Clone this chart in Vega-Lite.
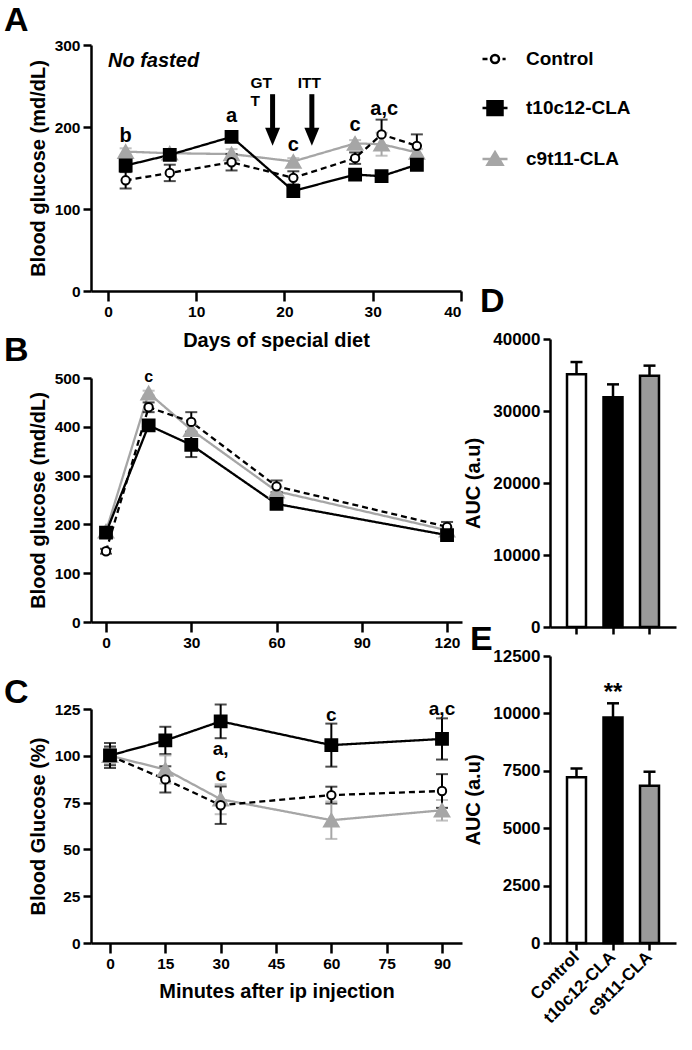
{
  "$schema": "https://vega.github.io/schema/vega-lite/v6.json",
  "background": "white",
  "padding": 4,
  "config": {
    "font": "Liberation Sans",
    "view": {"stroke": null},
    "axis": {
      "grid": false,
      "domainColor": "black",
      "domainWidth": 2.5,
      "tickColor": "black",
      "tickWidth": 2.5,
      "tickSize": 8,
      "labelFont": "Liberation Sans",
      "labelFontWeight": "bold",
      "labelFontSize": 15.5,
      "labelColor": "black",
      "labelPadding": 3,
      "titleFont": "Liberation Sans",
      "titleFontWeight": "bold",
      "titleFontSize": 20,
      "titleColor": "black"
    },
    "title": {"fontSize": 34, "fontWeight": "bold", "anchor": "start", "frame": "group", "baseline": "alphabetic", "offset": 0, "color": "black", "font": "Liberation Sans"}
  },
  "datasets": {
    "groups": [{"group": "Control"}, {"group": "t10c12-CLA"}, {"group": "c9t11-CLA"}],
    "A": [
      {"group": "c9t11-CLA", "x": 2, "y": 170, "err": 4},
      {"group": "c9t11-CLA", "x": 7, "y": 168, "err": 4},
      {"group": "c9t11-CLA", "x": 14, "y": 167, "err": 6},
      {"group": "c9t11-CLA", "x": 21, "y": 158, "err": 4},
      {"group": "c9t11-CLA", "x": 28, "y": 180, "err": 4},
      {"group": "c9t11-CLA", "x": 31, "y": 179, "err": 14},
      {"group": "c9t11-CLA", "x": 35, "y": 169, "err": 4},
      {"group": "Control", "x": 2, "y": 135, "err": 10},
      {"group": "Control", "x": 7, "y": 144, "err": 10},
      {"group": "Control", "x": 14, "y": 157, "err": 10},
      {"group": "Control", "x": 21, "y": 138, "err": 8},
      {"group": "Control", "x": 28, "y": 162, "err": 7},
      {"group": "Control", "x": 31, "y": 191, "err": 18},
      {"group": "Control", "x": 35, "y": 177, "err": 14},
      {"group": "t10c12-CLA", "x": 2, "y": 153, "err": 5},
      {"group": "t10c12-CLA", "x": 7, "y": 166, "err": 4},
      {"group": "t10c12-CLA", "x": 14, "y": 188, "err": 5},
      {"group": "t10c12-CLA", "x": 21, "y": 122, "err": 5},
      {"group": "t10c12-CLA", "x": 28, "y": 142, "err": 5},
      {"group": "t10c12-CLA", "x": 31, "y": 140, "err": 4},
      {"group": "t10c12-CLA", "x": 35, "y": 154, "err": 5}
    ],
    "Aletters": [
      {"x": 2, "y": 189, "label": "b"},
      {"x": 14, "y": 213, "label": "a"},
      {"x": 21, "y": 178, "label": "c"},
      {"x": 28, "y": 202, "label": "c"},
      {"x": 31.3, "y": 222, "label": "a,c"}
    ],
    "Anote": [{"x": 0, "y": 281, "label": "No fasted"}],
    "Aevents": [
      {"x": 16.15, "y": 253.6, "label": "GT"},
      {"x": 16.15, "y": 232, "label": "T"},
      {"x": 21.5, "y": 253.6, "label": "ITT"}
    ],
    "Aarrows": [{"x": 18.65, "y": 240, "y2": 190}, {"x": 23.1, "y": 240, "y2": 190}],
    "Aheads": [{"x": 18.65, "y": 188}, {"x": 23.1, "y": 188}],
    "B": [
      {"group": "c9t11-CLA", "x": 0, "y": 186, "err": 5},
      {"group": "c9t11-CLA", "x": 15, "y": 469, "err": 5},
      {"group": "c9t11-CLA", "x": 30, "y": 394, "err": 10},
      {"group": "c9t11-CLA", "x": 60, "y": 268, "err": 8},
      {"group": "c9t11-CLA", "x": 120, "y": 188, "err": 5},
      {"group": "Control", "x": 0, "y": 145, "err": 5},
      {"group": "Control", "x": 15, "y": 440, "err": 10},
      {"group": "Control", "x": 30, "y": 410, "err": 20},
      {"group": "Control", "x": 60, "y": 278, "err": 12},
      {"group": "Control", "x": 120, "y": 195, "err": 10},
      {"group": "t10c12-CLA", "x": 0, "y": 183, "err": 6},
      {"group": "t10c12-CLA", "x": 15, "y": 403, "err": 8},
      {"group": "t10c12-CLA", "x": 30, "y": 363, "err": 25},
      {"group": "t10c12-CLA", "x": 60, "y": 242, "err": 8},
      {"group": "t10c12-CLA", "x": 120, "y": 178, "err": 6}
    ],
    "Bletters": [{"x": 15, "y": 502, "label": "c"}],
    "C": [
      {"group": "c9t11-CLA", "x": 0, "y": 100, "err": 4},
      {"group": "c9t11-CLA", "x": 15, "y": 92.7, "err": 7.5},
      {"group": "c9t11-CLA", "x": 30, "y": 76.8, "err": 8},
      {"group": "c9t11-CLA", "x": 60, "y": 65.6, "err": 10},
      {"group": "c9t11-CLA", "x": 90, "y": 70.9, "err": 5.5},
      {"group": "Control", "x": 0, "y": 100, "err": 5},
      {"group": "Control", "x": 15, "y": 87.4, "err": 7},
      {"group": "Control", "x": 30, "y": 73.6, "err": 10},
      {"group": "Control", "x": 60, "y": 79, "err": 4.5},
      {"group": "Control", "x": 90, "y": 81.2, "err": 9},
      {"group": "t10c12-CLA", "x": 0, "y": 100.2, "err": 6.7},
      {"group": "t10c12-CLA", "x": 15, "y": 108.2, "err": 7.3},
      {"group": "t10c12-CLA", "x": 30, "y": 118.4, "err": 9},
      {"group": "t10c12-CLA", "x": 60, "y": 105.7, "err": 11.5},
      {"group": "t10c12-CLA", "x": 90, "y": 109, "err": 11}
    ],
    "Cletters": [
      {"x": 30, "y": 103.4, "label": "a,"},
      {"x": 30, "y": 90, "label": "c"},
      {"x": 60, "y": 122, "label": "c"},
      {"x": 90, "y": 125, "label": "a,c"}
    ],
    "D": [
      {"group": "Control", "y": 35100, "hi": 36800},
      {"group": "t10c12-CLA", "y": 31900, "hi": 33700},
      {"group": "c9t11-CLA", "y": 34900, "hi": 36300}
    ],
    "E": [
      {"group": "Control", "y": 7220, "hi": 7600},
      {"group": "t10c12-CLA", "y": 9820, "hi": 10440},
      {"group": "c9t11-CLA", "y": 6850, "hi": 7460}
    ],
    "Estar": [{"group": "t10c12-CLA", "y": 10900, "label": "**"}]
  },
  "resolve": {"scale": {"color": "independent", "fill": "independent", "stroke": "independent", "shape": "independent", "strokeDash": "independent", "size": "independent"}},
  "spacing": 0,
  "hconcat": [
    {
      "vconcat": [
        {
          "width": 370,
          "height": 246,
          "title": {"text": "A", "dx": -87, "dy": 4},
          "encoding": {
            "x": {"field": "x", "type": "quantitative", "scale": {"domain": [-1.926, 40], "nice": false, "zero": false}, "axis": {"values": [0, 10, 20, 30, 40], "title": "Days of special diet", "titlePadding": 11, "tickSize": 10}},
            "y": {"field": "y", "type": "quantitative", "scale": {"domain": [0, 300], "nice": false}, "axis": {"values": [0, 100, 200, 300], "title": "Blood glucose (md/dL)", "titlePadding": 6}}
          },
          "layer": [
            {"data": {"name": "A"}, "mark": {"type": "line", "strokeWidth": 2.3},
             "encoding": {
               "color": {"field": "group", "type": "nominal", "scale": {"domain": ["Control", "t10c12-CLA", "c9t11-CLA"], "range": ["black", "black", "#a6a6a6"]}, "legend": null},
               "strokeDash": {"field": "group", "type": "nominal", "scale": {"domain": ["Control", "t10c12-CLA", "c9t11-CLA"], "range": [[6, 4], [1, 0], [1, 0]]}, "legend": null}
             }},
            {"data": {"name": "A"}, "mark": {"type": "errorbar", "ticks": true, "size": 12, "thickness": 2},
             "encoding": {
               "yError": {"field": "err"},
               "color": {"field": "group", "type": "nominal", "scale": {"domain": ["Control", "t10c12-CLA", "c9t11-CLA"], "range": ["black", "black", "#a6a6a6"]}, "legend": null}
             }},
            {"data": {"name": "A"}, "mark": {"type": "point", "filled": true, "opacity": 1, "strokeWidth": 2},
             "encoding": {
               "shape": {"field": "group", "type": "nominal", "scale": {"domain": ["Control", "t10c12-CLA", "c9t11-CLA"], "range": ["circle", "square", "triangle-up"]}, "legend": null},
               "fill": {"field": "group", "type": "nominal", "scale": {"domain": ["Control", "t10c12-CLA", "c9t11-CLA"], "range": ["white", "black", "#a6a6a6"]}, "legend": null},
               "stroke": {"field": "group", "type": "nominal", "scale": {"domain": ["Control", "t10c12-CLA", "c9t11-CLA"], "range": ["black", "black", "#a6a6a6"]}, "legend": null},
               "size": {"field": "group", "type": "nominal", "scale": {"domain": ["Control", "t10c12-CLA", "c9t11-CLA"], "range": [70, 210, 110]}, "legend": null}
             }},
            {"data": {"name": "Aarrows"}, "mark": {"type": "rule", "strokeWidth": 5, "color": "black"}, "encoding": {"y2": {"field": "y2"}}},
            {"data": {"name": "Aheads"}, "mark": {"type": "point", "filled": true, "opacity": 1, "color": "black", "shape": "M-0.83,-1L0.83,-1L0,1Z", "size": 324}, "encoding": {}},
            {"data": {"name": "Aletters"}, "mark": {"type": "text", "fontSize": 20, "fontWeight": "bold", "color": "black", "baseline": "middle"}, "encoding": {"text": {"field": "label"}}},
            {"data": {"name": "Anote"}, "mark": {"type": "text", "fontSize": 20, "fontWeight": "bold", "fontStyle": "italic", "color": "black", "align": "left", "baseline": "middle"}, "encoding": {"text": {"field": "label"}}},
            {"data": {"name": "Aevents"}, "mark": {"type": "text", "fontSize": 15.5, "fontWeight": "bold", "color": "black", "align": "left", "baseline": "middle"}, "encoding": {"text": {"field": "label"}}}
          ]
        },
        {
          "width": 371,
          "height": 244,
          "title": {"text": "B", "dx": -87, "dy": 3},
          "encoding": {
            "x": {"field": "x", "type": "quantitative", "scale": {"domain": [-5.28, 125.26], "nice": false, "zero": false}, "axis": {"values": [0, 30, 60, 90, 120], "title": null, "tickSize": 10}},
            "y": {"field": "y", "type": "quantitative", "scale": {"domain": [0, 500], "nice": false}, "axis": {"values": [0, 100, 200, 300, 400, 500], "title": "Blood glucose (md/dL)", "titlePadding": 6}}
          },
          "layer": [
            {"data": {"name": "B"}, "mark": {"type": "line", "strokeWidth": 2.3},
             "encoding": {
               "color": {"field": "group", "type": "nominal", "scale": {"domain": ["Control", "t10c12-CLA", "c9t11-CLA"], "range": ["black", "black", "#a6a6a6"]}, "legend": null},
               "strokeDash": {"field": "group", "type": "nominal", "scale": {"domain": ["Control", "t10c12-CLA", "c9t11-CLA"], "range": [[6, 4], [1, 0], [1, 0]]}, "legend": null}
             }},
            {"data": {"name": "B"}, "mark": {"type": "errorbar", "ticks": true, "size": 12, "thickness": 2},
             "encoding": {
               "yError": {"field": "err"},
               "color": {"field": "group", "type": "nominal", "scale": {"domain": ["Control", "t10c12-CLA", "c9t11-CLA"], "range": ["black", "black", "#a6a6a6"]}, "legend": null}
             }},
            {"data": {"name": "B"}, "mark": {"type": "point", "filled": true, "opacity": 1, "strokeWidth": 2},
             "encoding": {
               "shape": {"field": "group", "type": "nominal", "scale": {"domain": ["Control", "t10c12-CLA", "c9t11-CLA"], "range": ["circle", "square", "triangle-up"]}, "legend": null},
               "fill": {"field": "group", "type": "nominal", "scale": {"domain": ["Control", "t10c12-CLA", "c9t11-CLA"], "range": ["white", "black", "#a6a6a6"]}, "legend": null},
               "stroke": {"field": "group", "type": "nominal", "scale": {"domain": ["Control", "t10c12-CLA", "c9t11-CLA"], "range": ["black", "black", "#a6a6a6"]}, "legend": null},
               "size": {"field": "group", "type": "nominal", "scale": {"domain": ["Control", "t10c12-CLA", "c9t11-CLA"], "range": [70, 210, 110]}, "legend": null}
             }},
            {"data": {"name": "Bletters"}, "mark": {"type": "text", "fontSize": 16, "fontWeight": "bold", "color": "black", "baseline": "middle"}, "encoding": {"text": {"field": "label"}}}
          ]
        },
        {
          "width": 371,
          "height": 234,
          "title": {"text": "C", "dx": -87, "dy": 14},
          "encoding": {
            "x": {"field": "x", "type": "quantitative", "scale": {"domain": [-5.15, 95.42], "nice": false, "zero": false}, "axis": {"values": [0, 15, 30, 45, 60, 75, 90], "title": "Minutes after ip injection", "titlePadding": 10, "tickSize": 10}},
            "y": {"field": "y", "type": "quantitative", "scale": {"domain": [0, 125], "nice": false}, "axis": {"values": [0, 25, 50, 75, 100, 125], "title": "Blood Glucose (%)", "titlePadding": 6}}
          },
          "layer": [
            {"data": {"name": "C"}, "mark": {"type": "line", "strokeWidth": 2.3},
             "encoding": {
               "color": {"field": "group", "type": "nominal", "scale": {"domain": ["Control", "t10c12-CLA", "c9t11-CLA"], "range": ["black", "black", "#a6a6a6"]}, "legend": null},
               "strokeDash": {"field": "group", "type": "nominal", "scale": {"domain": ["Control", "t10c12-CLA", "c9t11-CLA"], "range": [[6, 4], [1, 0], [1, 0]]}, "legend": null}
             }},
            {"data": {"name": "C"}, "mark": {"type": "errorbar", "ticks": true, "size": 12, "thickness": 2},
             "encoding": {
               "yError": {"field": "err"},
               "color": {"field": "group", "type": "nominal", "scale": {"domain": ["Control", "t10c12-CLA", "c9t11-CLA"], "range": ["black", "black", "#a6a6a6"]}, "legend": null}
             }},
            {"data": {"name": "C"}, "mark": {"type": "point", "filled": true, "opacity": 1, "strokeWidth": 2},
             "encoding": {
               "shape": {"field": "group", "type": "nominal", "scale": {"domain": ["Control", "t10c12-CLA", "c9t11-CLA"], "range": ["circle", "square", "triangle-up"]}, "legend": null},
               "fill": {"field": "group", "type": "nominal", "scale": {"domain": ["Control", "t10c12-CLA", "c9t11-CLA"], "range": ["white", "black", "#a6a6a6"]}, "legend": null},
               "stroke": {"field": "group", "type": "nominal", "scale": {"domain": ["Control", "t10c12-CLA", "c9t11-CLA"], "range": ["black", "black", "#a6a6a6"]}, "legend": null},
               "size": {"field": "group", "type": "nominal", "scale": {"domain": ["Control", "t10c12-CLA", "c9t11-CLA"], "range": [70, 210, 110]}, "legend": null}
             }},
            {"data": {"name": "Cletters"}, "mark": {"type": "text", "fontSize": 19, "fontWeight": "bold", "color": "black", "baseline": "middle"}, "encoding": {"text": {"field": "label"}}}
          ]
        }
      ],
      "spacing": 87,
      "bounds": "flush",
      "resolve": {"scale": {"color": "independent", "fill": "independent", "stroke": "independent", "shape": "independent", "strokeDash": "independent", "size": "independent"}}
    },
    {
      "vconcat": [
        {
          "width": 126,
          "height": 265,
          "data": {"name": "groups"},
          "transform": [{"filter": "false"}],
          "mark": {"type": "point", "filled": true, "opacity": 1, "strokeWidth": 2.5},
          "encoding": {
            "shape": {"field": "group", "type": "nominal", "scale": {"domain": ["Control", "t10c12-CLA", "c9t11-CLA"], "range": ["M-1,0H-0.6M0.32,0A0.32,0.32,0,1,1,-0.32,0A0.32,0.32,0,1,1,0.32,0ZM0.6,0H0.85", "M-1,0H1M-0.6,-0.55H0.6V0.55H-0.6Z", "M-1,0H1M0,-0.55L0.6,0.45H-0.6Z"]},
              "legend": {"title": null, "orient": "none", "legendX": -69, "legendY": 0, "padding": 0, "symbolSize": 625, "symbolStrokeWidth": 2.5, "labelFont": "Liberation Sans", "labelFontSize": 19, "labelFontWeight": "bold", "labelColor": "black", "labelOffset": 17, "rowPadding": 25}},
            "fill": {"field": "group", "type": "nominal", "scale": {"domain": ["Control", "t10c12-CLA", "c9t11-CLA"], "range": ["white", "black", "#a6a6a6"]},
              "legend": {"title": null, "orient": "none", "legendX": -69, "legendY": 0, "padding": 0, "symbolSize": 625, "symbolStrokeWidth": 2.5, "labelFont": "Liberation Sans", "labelFontSize": 19, "labelFontWeight": "bold", "labelColor": "black", "labelOffset": 17, "rowPadding": 25}},
            "stroke": {"field": "group", "type": "nominal", "scale": {"domain": ["Control", "t10c12-CLA", "c9t11-CLA"], "range": ["black", "black", "#a6a6a6"]},
              "legend": {"title": null, "orient": "none", "legendX": -69, "legendY": 0, "padding": 0, "symbolSize": 625, "symbolStrokeWidth": 2.5, "labelFont": "Liberation Sans", "labelFontSize": 19, "labelFontWeight": "bold", "labelColor": "black", "labelOffset": 17, "rowPadding": 25}}
          }
        },
        {
          "width": 126,
          "height": 288,
          "title": {"text": "D", "dx": -70, "dy": -7},
          "data": {"name": "D"},
          "encoding": {
            "x": {"field": "group", "type": "nominal", "sort": ["Control", "t10c12-CLA", "c9t11-CLA"], "scale": {"domain": ["Control", "t10c12-CLA", "c9t11-CLA"], "paddingInner": 0.48, "paddingOuter": 0.466}, "axis": {"labels": false, "title": null, "tickSize": 7}},
            "y": {"field": "y", "type": "quantitative", "scale": {"domain": [0, 40000], "nice": false}, "axis": {"values": [0, 10000, 20000, 30000, 40000], "format": "d", "title": "AUC (a.u)", "labelFontSize": 17, "tickSize": 7, "titlePadding": 9}}
          },
          "layer": [
            {"mark": {"type": "rule", "strokeWidth": 2.5, "color": "black"}, "encoding": {"y2": {"field": "hi"}}},
            {"mark": {"type": "tick", "size": 12, "thickness": 2.5, "color": "black", "opacity": 1}, "encoding": {"y": {"field": "hi", "type": "quantitative", "title": "AUC (a.u)"}}},
            {"mark": {"type": "bar", "stroke": "black", "strokeWidth": 2.5},
             "encoding": {"fill": {"field": "group", "type": "nominal", "scale": {"domain": ["Control", "t10c12-CLA", "c9t11-CLA"], "range": ["white", "black", "#9a9a9a"]}, "legend": null}}}
          ]
        },
        {
          "width": 126,
          "height": 287,
          "title": {"text": "E", "dx": -80, "dy": 14},
          "encoding": {
            "x": {"field": "group", "type": "nominal", "sort": ["Control", "t10c12-CLA", "c9t11-CLA"], "scale": {"domain": ["Control", "t10c12-CLA", "c9t11-CLA"], "paddingInner": 0.48, "paddingOuter": 0.466}, "axis": {"title": null, "tickSize": 7, "labelAngle": -45, "labelAlign": "right", "labelBaseline": "middle", "labelFontSize": 17, "labelPadding": 4}},
            "y": {"field": "y", "type": "quantitative", "scale": {"domain": [0, 12500], "nice": false}, "axis": {"values": [0, 2500, 5000, 7500, 10000, 12500], "format": "d", "title": "AUC (a.u)", "labelFontSize": 17, "tickSize": 7, "titlePadding": 9}}
          },
          "layer": [
            {"data": {"name": "E"}, "mark": {"type": "rule", "strokeWidth": 2.5, "color": "black"}, "encoding": {"y2": {"field": "hi"}}},
            {"data": {"name": "E"}, "mark": {"type": "tick", "size": 12, "thickness": 2.5, "color": "black", "opacity": 1}, "encoding": {"y": {"field": "hi", "type": "quantitative", "title": "AUC (a.u)"}}},
            {"data": {"name": "E"}, "mark": {"type": "bar", "stroke": "black", "strokeWidth": 2.5},
             "encoding": {"fill": {"field": "group", "type": "nominal", "scale": {"domain": ["Control", "t10c12-CLA", "c9t11-CLA"], "range": ["white", "black", "#9a9a9a"]}, "legend": null}}},
            {"data": {"name": "Estar"}, "mark": {"type": "text", "fontSize": 24, "fontWeight": "bold", "color": "black", "baseline": "middle"}, "encoding": {"text": {"field": "label"}}}
          ]
        }
      ],
      "spacing": 29,
      "bounds": "flush",
      "resolve": {"scale": {"color": "independent", "fill": "independent", "stroke": "independent", "shape": "independent", "strokeDash": "independent", "size": "independent"}}
    }
  ]
}
